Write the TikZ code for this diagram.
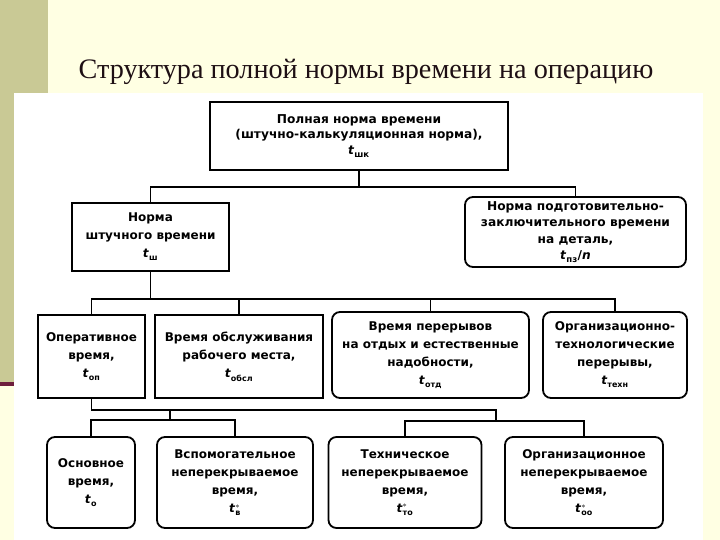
\documentclass[tikz,border=0pt]{standalone}
\usepackage{amsmath}
\usepackage{fontspec}
\setmainfont{Liberation Serif}
\newfontfamily\boxfont{DejaVu Sans}
\usepackage{xcolor}
\usetikzlibrary{positioning,calc}
\definecolor{slidebg}{HTML}{FFFFE3}
\definecolor{slidebar}{HTML}{C9C995}
\definecolor{slideline}{HTML}{6E1E3C}
\definecolor{titleink}{HTML}{1E0F14}
\newcommand{\tsub}[2]{\textit{t}$_{\text{#1}}^{#2}$}

\begin{document}
\begin{tikzpicture}[x=1pt,y=-1pt,line width=1.3pt,font=\boxfont\bfseries\fontsize{12}{18}\selectfont]
\tikzstyle{normbox}=[draw,line width=1.8pt,align=center,inner sep=0pt,fill=white]
\tikzstyle{roundbox}=[normbox,rounded corners=8pt]
\useasboundingbox (0,0) rectangle (720,540);
\fill[slidebg] (0,0) rectangle (720,540);
\fill[slidebar] (0,0) rectangle (48,383);
\fill[slideline] (0,382) rectangle (15,386);
\fill[white] (14,93) rectangle (703,540);
\node[font=\rmfamily\fontsize{28.2}{30}\selectfont,text=titleink,anchor=base] (title) at (366,79) {Структура полной нормы времени на операцию};

\node[normbox,minimum width=298,minimum height=68,font=\boxfont\bfseries\fontsize{12.2}{15.5}\selectfont] (full) at (359,136) {Полная норма времени\\(штучно-калькуляционная норма),\\\tsub{шк}{}};
\node[normbox,minimum width=157,minimum height=68] (piece) at (150.5,237) {Норма\\штучного времени\\\tsub{ш}{}};
\node[roundbox,minimum width=221,minimum height=70,font=\boxfont\bfseries\fontsize{12.2}{16.5}\selectfont] (prep) at (575.5,232) {Норма подготовительно-\\заключительного времени\\на деталь,\\\tsub{пз}{}/\textit{n}};

\node[normbox,minimum width=107,minimum height=83] (oper) at (91.5,356.5) {Оперативное\\время,\\\tsub{оп}{}};
\node[normbox,minimum width=168,minimum height=83] (serv) at (239,356.5) {Время обслуживания\\рабочего места,\\\tsub{обсл}{}};
\node[roundbox,minimum width=197,minimum height=86] (rest) at (430.5,355) {Время перерывов\\на отдых и естественные\\надобности,\\\tsub{отд}{}};
\node[roundbox,minimum width=144,minimum height=86] (tech) at (615,355) {Организационно-\\технологические\\перерывы,\\\tsub{техн}{}};

\node[roundbox,minimum width=88,minimum height=91] (main) at (91,482.5) {Основное\\время,\\\tsub{о}{}};
\node[roundbox,minimum width=156,minimum height=91] (aux) at (235,482.5) {Вспомогательное\\неперекрываемое\\время,\\\tsub{в}{*}};
\node[roundbox,minimum width=153,minimum height=91] (techno) at (405,482.5) {Техническое\\неперекрываемое\\время,\\\tsub{то}{*}};
\node[roundbox,minimum width=158,minimum height=91] (org) at (584,482.5) {Организационное\\неперекрываемое\\время,\\\tsub{оо}{*}};

\coordinate (bus1) at (359,187);
\coordinate (bus2) at (150.5,299);
\coordinate (bus3) at (496,410);
\coordinate (fork1) at (170,410);
\coordinate (sub1) at (170,420);
\coordinate (sub2) at (496,421);
\draw (full.south) -- (bus1);
\draw (piece.north) |- (bus1) -| (prep.north);
\draw (piece.south) -- (bus2);
\draw (oper.north) |- (bus2) -| (tech.north);
\draw (serv.north) -- (serv.north |- bus2);
\draw (rest.north) -- (rest.north |- bus2);
\draw (oper.south) |- (bus3) -- (sub2);
\draw (fork1) -- (sub1);
\draw (main.north) |- (sub1) -| (aux.north);
\draw (techno.north) |- (sub2) -| (org.north);
\end{tikzpicture}
\end{document}
